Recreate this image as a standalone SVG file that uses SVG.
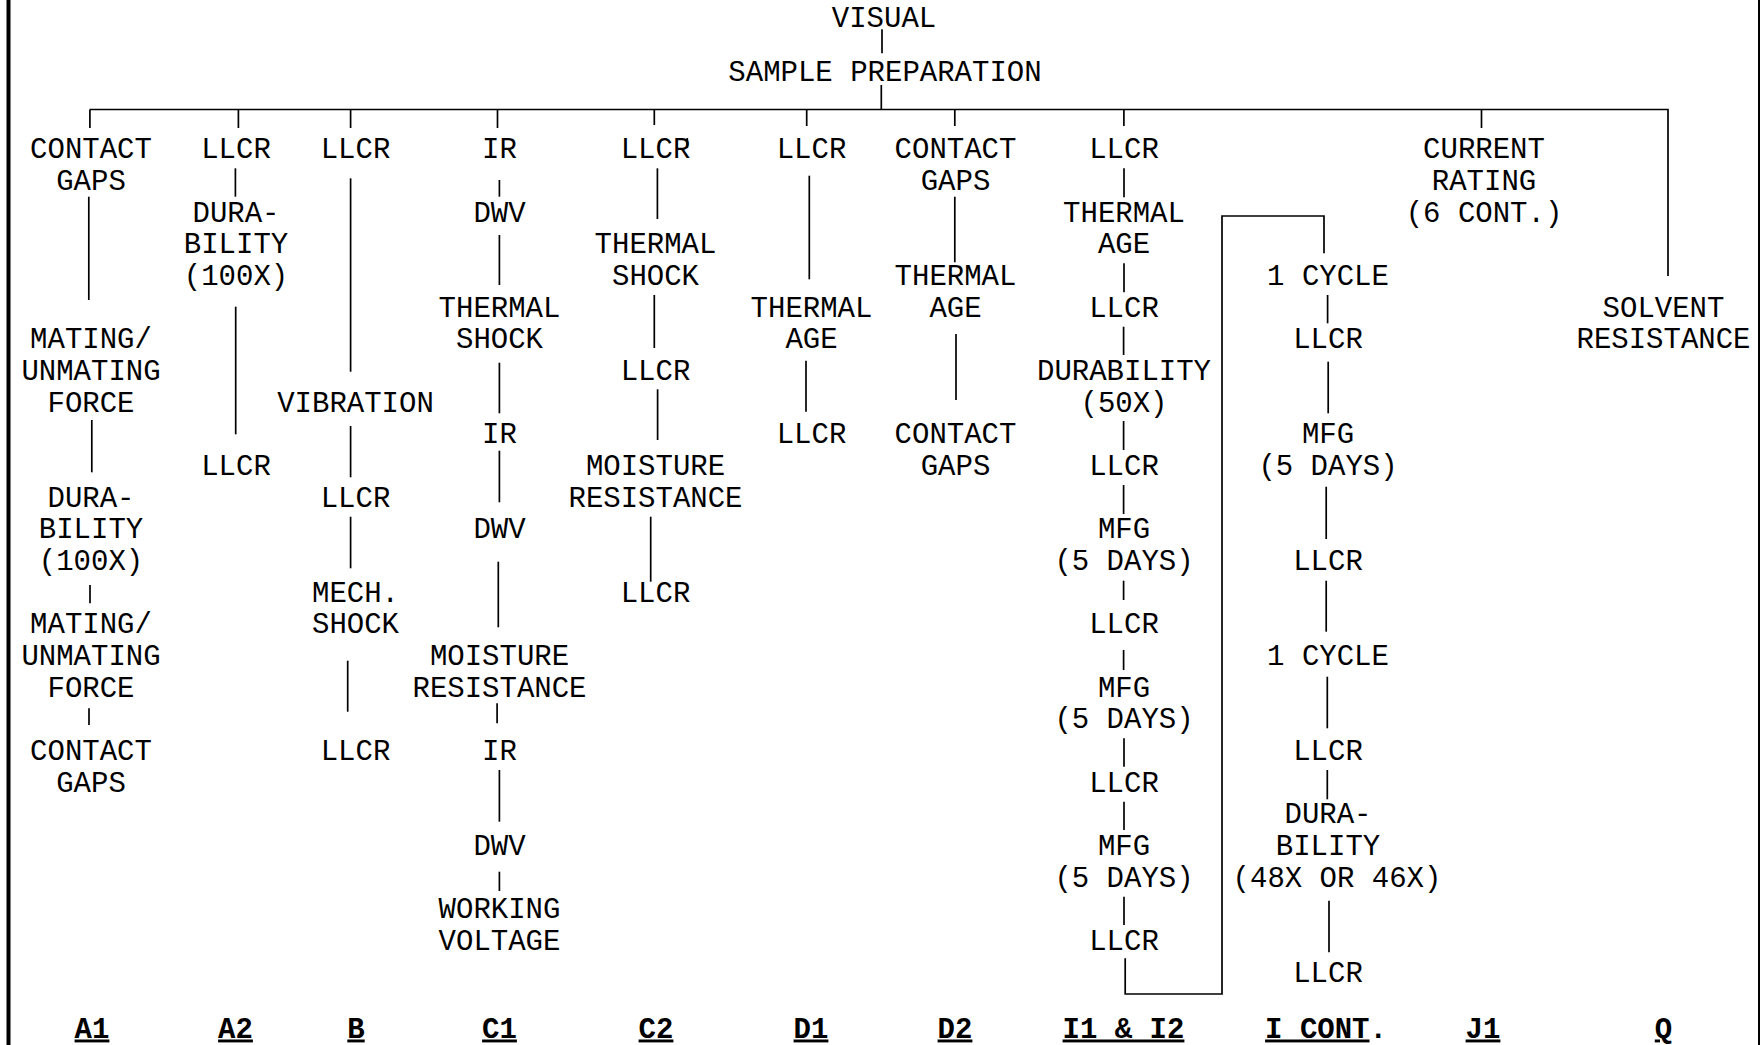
<svg xmlns="http://www.w3.org/2000/svg" width="1760" height="1045" viewBox="0 0 1760 1045">
<style>
text{font-family:"Liberation Mono","Courier New",monospace;font-size:29px;fill:#000;text-anchor:middle}
.lab{font-weight:bold}
.c line,.c path{stroke:#000;stroke-width:1.7;fill:none}
.bus{stroke-width:2.2}
</style>
<rect width="1760" height="1045" fill="#fff"/>
<g id="frame">
<line x1="8.5" y1="0" x2="8.5" y2="1045" stroke="#000" stroke-width="4"/>
<line x1="1759" y1="0" x2="1759" y2="1045" stroke="#000" stroke-width="2"/>
</g>
<g id="connectors" class="c">
<line x1="882" y1="29.3" x2="882" y2="53.3"/>
<line x1="881.3" y1="85" x2="881.3" y2="109.5"/>
<path class="bus" d="M89.5,109.5 H1668 V276"/>
<line x1="89.9" y1="110" x2="89.9" y2="128"/>
<line x1="238.4" y1="110" x2="238.4" y2="128"/>
<line x1="350.6" y1="110" x2="350.6" y2="128"/>
<line x1="497.5" y1="110" x2="497.5" y2="128"/>
<line x1="654.3" y1="110" x2="654.3" y2="125"/>
<line x1="687.3" y1="138" x2="687.3" y2="148"/>
<line x1="806.7" y1="110" x2="806.7" y2="126"/>
<line x1="954.8" y1="110" x2="954.8" y2="126"/>
<line x1="1123.9" y1="110" x2="1123.9" y2="126"/>
<line x1="1481.5" y1="110" x2="1481.5" y2="128"/>
<line x1="88.8" y1="196.7" x2="88.8" y2="300"/>
<line x1="91.8" y1="420" x2="91.8" y2="472.3"/>
<line x1="90" y1="585" x2="90" y2="603.3"/>
<line x1="89" y1="708.3" x2="89" y2="725"/>
<line x1="235.4" y1="168.3" x2="235.4" y2="196.7"/>
<line x1="235.7" y1="306.7" x2="235.7" y2="434.3"/>
<line x1="350.6" y1="178.3" x2="350.6" y2="371.7"/>
<line x1="350.6" y1="426" x2="350.6" y2="477.3"/>
<line x1="350.6" y1="516.7" x2="350.6" y2="568.3"/>
<line x1="347.7" y1="660.7" x2="347.7" y2="711.7"/>
<line x1="499.4" y1="180" x2="499.4" y2="196.7"/>
<line x1="499.4" y1="235" x2="499.4" y2="285"/>
<line x1="499.4" y1="362.7" x2="499.4" y2="413.3"/>
<line x1="499.4" y1="450.7" x2="499.4" y2="502.3"/>
<line x1="498.3" y1="561.7" x2="498.3" y2="627.3"/>
<line x1="497.1" y1="703.3" x2="497.1" y2="723.3"/>
<line x1="499.4" y1="770" x2="499.4" y2="821.7"/>
<line x1="499.4" y1="871.7" x2="499.4" y2="891"/>
<line x1="657.4" y1="168.3" x2="657.4" y2="219"/>
<line x1="654.3" y1="295" x2="654.3" y2="348"/>
<line x1="657.6" y1="389.3" x2="657.6" y2="440"/>
<line x1="650.7" y1="516.7" x2="650.7" y2="581.7"/>
<line x1="809.3" y1="175.7" x2="809.3" y2="279.3"/>
<line x1="806" y1="360.7" x2="806" y2="411.7"/>
<line x1="954.8" y1="196.7" x2="954.8" y2="262.3"/>
<line x1="956" y1="334" x2="956" y2="400"/>
<line x1="1124" y1="168.3" x2="1124" y2="197.3"/>
<line x1="1124" y1="263.3" x2="1124" y2="292.3"/>
<line x1="1123.6" y1="326.7" x2="1123.6" y2="355"/>
<line x1="1123.6" y1="421" x2="1123.6" y2="450"/>
<line x1="1123.6" y1="485" x2="1123.6" y2="514"/>
<line x1="1123.6" y1="580.7" x2="1123.6" y2="600"/>
<line x1="1123.6" y1="650" x2="1123.6" y2="670"/>
<line x1="1124" y1="738.3" x2="1124" y2="766.7"/>
<line x1="1124" y1="801.7" x2="1124" y2="830"/>
<line x1="1124" y1="896.7" x2="1124" y2="925"/>
<path d="M1125.2,958.3 V994 H1222 V216 H1324 V253.3"/>
<line x1="1327.6" y1="295" x2="1327.6" y2="323.3"/>
<line x1="1328.2" y1="361.7" x2="1328.2" y2="413.3"/>
<line x1="1326.2" y1="486.7" x2="1326.2" y2="539"/>
<line x1="1326.2" y1="580.7" x2="1326.2" y2="631.7"/>
<line x1="1327.3" y1="676.7" x2="1327.3" y2="728.3"/>
<line x1="1327.3" y1="770" x2="1327.3" y2="799.3"/>
<line x1="1329" y1="900.7" x2="1329" y2="952.3"/>
</g>
<g id="top">
<g id="n-visual"><text x="884" y="26.7">VISUAL</text></g>
<g id="n-sample"><text x="885" y="81">SAMPLE PREPARATION</text></g>
</g>
<g id="col-A1">
<g id="a1-1"><text x="91" y="158.3">CONTACT<tspan x="91" dy="31.67">GAPS</tspan></text></g>
<g id="a1-2"><text x="91" y="348.3">MATING/<tspan x="91" dy="31.67">UNMATING</tspan><tspan x="91" dy="31.67">FORCE</tspan></text></g>
<g id="a1-3"><text x="91" y="506.7">DURA-<tspan x="91" dy="31.67">BILITY</tspan><tspan x="91" dy="31.67">(100X)</tspan></text></g>
<g id="a1-4"><text x="91" y="633.4">MATING/<tspan x="91" dy="31.67">UNMATING</tspan><tspan x="91" dy="31.67">FORCE</tspan></text></g>
<g id="a1-5"><text x="91" y="760">CONTACT<tspan x="91" dy="31.67">GAPS</tspan></text></g>
</g>
<g id="col-A2">
<g id="a2-1"><text x="236" y="158.3">LLCR</text></g>
<g id="a2-2"><text x="236" y="221.6">DURA-<tspan x="236" dy="31.67">BILITY</tspan><tspan x="236" dy="31.67">(100X)</tspan></text></g>
<g id="a2-3"><text x="236" y="475">LLCR</text></g>
</g>
<g id="col-B">
<g id="b-1"><text x="355.5" y="158.3">LLCR</text></g>
<g id="b-2"><text x="355.5" y="411.7">VIBRATION</text></g>
<g id="b-3"><text x="355.5" y="506.7">LLCR</text></g>
<g id="b-4"><text x="355.5" y="601.7">MECH.<tspan x="355.5" dy="31.67">SHOCK</tspan></text></g>
<g id="b-5"><text x="355.5" y="760">LLCR</text></g>
</g>
<g id="col-C1">
<g id="c1-1"><text x="499.5" y="158.3">IR</text></g>
<g id="c1-2"><text x="499.5" y="221.6">DWV</text></g>
<g id="c1-3"><text x="499.5" y="316.7">THERMAL<tspan x="499.5" dy="31.67">SHOCK</tspan></text></g>
<g id="c1-4"><text x="499.5" y="443.3">IR</text></g>
<g id="c1-5"><text x="499.5" y="538.3">DWV</text></g>
<g id="c1-6"><text x="499.5" y="665">MOISTURE<tspan x="499.5" dy="31.67">RESISTANCE</tspan></text></g>
<g id="c1-7"><text x="499.5" y="760">IR</text></g>
<g id="c1-8"><text x="499.5" y="855">DWV</text></g>
<g id="c1-9"><text x="499.5" y="918.4">WORKING<tspan x="499.5" dy="31.67">VOLTAGE</tspan></text></g>
</g>
<g id="col-C2">
<g id="c2-1"><text x="655.5" y="158.3">LLCR</text></g>
<g id="c2-2"><text x="655.5" y="253.3">THERMAL<tspan x="655.5" dy="31.67">SHOCK</tspan></text></g>
<g id="c2-3"><text x="655.5" y="380">LLCR</text></g>
<g id="c2-4"><text x="655.5" y="475">MOISTURE<tspan x="655.5" dy="31.67">RESISTANCE</tspan></text></g>
<g id="c2-5"><text x="655.5" y="601.7">LLCR</text></g>
</g>
<g id="col-D1">
<g id="d1-1"><text x="811.5" y="158.3">LLCR</text></g>
<g id="d1-2"><text x="811.5" y="316.7">THERMAL<tspan x="811.5" dy="31.67">AGE</tspan></text></g>
<g id="d1-3"><text x="811.5" y="443.3">LLCR</text></g>
</g>
<g id="col-D2">
<g id="d2-1"><text x="955.5" y="158.3">CONTACT<tspan x="955.5" dy="31.67">GAPS</tspan></text></g>
<g id="d2-2"><text x="955.5" y="285">THERMAL<tspan x="955.5" dy="31.67">AGE</tspan></text></g>
<g id="d2-3"><text x="955.5" y="443.3">CONTACT<tspan x="955.5" dy="31.67">GAPS</tspan></text></g>
</g>
<g id="col-I1">
<g id="i-1"><text x="1124" y="158.3">LLCR</text></g>
<g id="i-2"><text x="1124" y="221.6">THERMAL<tspan x="1124" dy="31.67">AGE</tspan></text></g>
<g id="i-3"><text x="1124" y="316.7">LLCR</text></g>
<g id="i-4"><text x="1124" y="380">DURABILITY<tspan x="1124" dy="31.67">(50X)</tspan></text></g>
<g id="i-5"><text x="1124" y="475">LLCR</text></g>
<g id="i-6"><text x="1124" y="538.3">MFG<tspan x="1124" dy="31.67">(5 DAYS)</tspan></text></g>
<g id="i-7"><text x="1124" y="633.4">LLCR</text></g>
<g id="i-8"><text x="1124" y="696.7">MFG<tspan x="1124" dy="31.67">(5 DAYS)</tspan></text></g>
<g id="i-9"><text x="1124" y="791.7">LLCR</text></g>
<g id="i-10"><text x="1124" y="855">MFG<tspan x="1124" dy="31.67">(5 DAYS)</tspan></text></g>
<g id="i-11"><text x="1124" y="950.1">LLCR</text></g>
</g>
<g id="col-Icont">
<g id="ic-1"><text x="1328" y="285">1 CYCLE</text></g>
<g id="ic-2"><text x="1328" y="348.3">LLCR</text></g>
<g id="ic-3"><text x="1328" y="443.3">MFG<tspan x="1328" dy="31.67">(5 DAYS)</tspan></text></g>
<g id="ic-4"><text x="1328" y="570">LLCR</text></g>
<g id="ic-5"><text x="1328" y="665">1 CYCLE</text></g>
<g id="ic-6"><text x="1328" y="760">LLCR</text></g>
<g id="ic-7"><text x="1328" y="823.4">DURA-<tspan x="1328" dy="31.67">BILITY</tspan><tspan x="1337" dy="31.67">(48X OR 46X)</tspan></text></g>
<g id="ic-8"><text x="1328" y="981.7">LLCR</text></g>
</g>
<g id="col-J1">
<g id="j1-1"><text x="1484" y="158.3">CURRENT<tspan x="1484" dy="31.67">RATING</tspan><tspan x="1484" dy="31.67">(6 CONT.)</tspan></text></g>
</g>
<g id="col-Q">
<g id="q-1"><text x="1663.5" y="316.7">SOLVENT<tspan x="1663.5" dy="31.67">RESISTANCE</tspan></text></g>
</g>
<g id="labels">
<text class="lab" x="92" y="1037.5" text-decoration="underline">A1</text>
<text class="lab" x="235.5" y="1037.5" text-decoration="underline">A2</text>
<text class="lab" x="356" y="1037.5" text-decoration="underline">B</text>
<text class="lab" x="499.5" y="1037.5" text-decoration="underline">C1</text>
<text class="lab" x="656" y="1037.5" text-decoration="underline">C2</text>
<text class="lab" x="811" y="1037.5" text-decoration="underline">D1</text>
<text class="lab" x="955" y="1037.5" text-decoration="underline">D2</text>
<text class="lab" x="1123.5" y="1037.5" text-decoration="underline">I1 &amp; I2</text>
<text class="lab" x="1326" y="1037.5"><tspan text-decoration="underline">I CONT</tspan>.</text>
<text class="lab" x="1483" y="1037.5" text-decoration="underline">J1</text>
<text class="lab" x="1663.5" y="1037.5" text-decoration="underline">Q</text>
</g>
</svg>
